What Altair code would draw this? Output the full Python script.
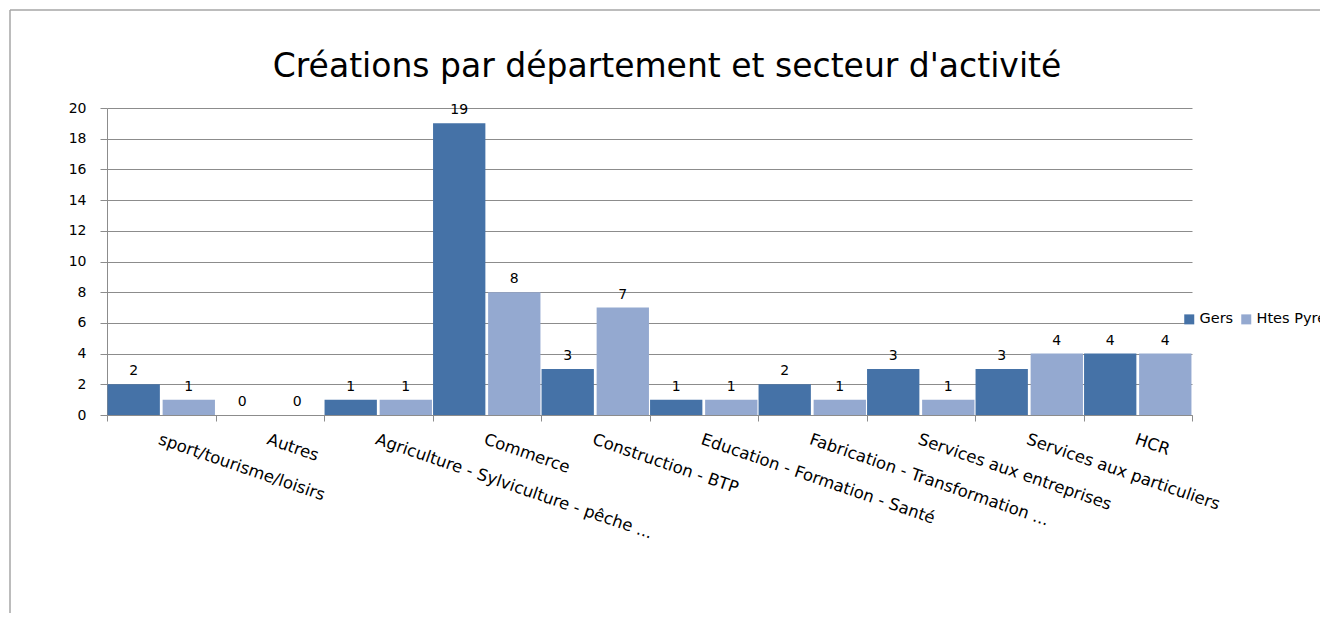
import altair as alt
import pandas as pd

categories = [
    "sport/tourisme/loisirs",
    "Autres",
    "Agriculture - Sylviculture - pêche ...",
    "Commerce",
    "Construction - BTP",
    "Education - Formation - Santé",
    "Fabrication - Transformation ...",
    "Services aux entreprises",
    "Services aux particuliers",
    "HCR",
]
series = ["Gers", "Htes Pyrénées"]
gers = [2, 0, 1, 19, 3, 1, 2, 3, 3, 4]
htes = [1, 0, 1, 8, 7, 1, 1, 1, 4, 4]
colors = ["#4572A7", "#94A9D0"]
title_text = "Créations par département et secteur d'activité"
y_ticks = [0, 2, 4, 6, 8, 10, 12, 14, 16, 18, 20]

rows = []
for c, g, h in zip(categories, gers, htes):
    rows.append({"cat": c, "serie": series[0], "val": g})
    rows.append({"cat": c, "serie": series[1], "val": h})
df = pd.DataFrame(rows)

FONT = "DejaVu Sans"
W, H = 1085, 307

x_enc = alt.X(
    "cat:N",
    sort=categories,
    scale=alt.Scale(paddingInner=0, paddingOuter=0),
    axis=alt.Axis(
        title=None,
        labelAngle=19,
        labelAlign="left",
        labelBaseline="top",
        tickBand="extent",
        labelPadding=10,
        tickSize=6,
        labelFontSize=16.5,
        labelFont=FONT,
        labelColor="#000000",
        domainColor="#8c8c8c",
        tickColor="#8c8c8c",
        grid=False,
        labelLimit=400,
        labelOverlap=False,
    ),
)
xoff = alt.XOffset("serie:N", sort=series, scale=alt.Scale(paddingInner=0.05, paddingOuter=0.01))
y_enc = alt.Y(
    "val:Q",
    scale=alt.Scale(domain=[0, 20], nice=False),
    axis=alt.Axis(
        title=None,
        values=y_ticks,
        labelOverlap=False,
        tickSize=7,
        labelPadding=14,
        labelFontSize=14,
        labelFont=FONT,
        labelColor="#000000",
        domainColor="#8c8c8c",
        tickColor="#8c8c8c",
        gridColor="#8c8c8c",
        gridWidth=1,
    ),
)

base = alt.Chart(df)
bars = base.mark_bar().encode(
    x=x_enc,
    xOffset=xoff,
    y=y_enc,
    color=alt.Color(
        "serie:N",
        sort=series,
        scale=alt.Scale(domain=series, range=colors),
        legend=alt.Legend(
            title=None,
            orient="none",
            legendX=1075,
            legendY=204,
            direction="horizontal",
            symbolType="square",
            symbolSize=100,
            symbolStrokeWidth=0,
            labelFont=FONT,
            labelFontSize=14.5,
            labelColor="#000000",
            columnPadding=5,
            labelOffset=3,
        ),
    ),
)
labels = base.mark_text(baseline="bottom", dy=-6, font=FONT, fontSize=14, color="#000000").encode(
    x=x_enc,
    xOffset=xoff,
    y=y_enc,
    text=alt.Text("val:Q"),
)

title = alt.Chart(pd.DataFrame({"t": [title_text]})).mark_text(
    font=FONT, fontSize=33, color="#000000", baseline="alphabetic", align="center"
).encode(x=alt.value(560), y=alt.value(-31), text="t:N")

border_v = alt.Chart(pd.DataFrame({"a": [0]})).mark_rule(color="#a6a6a6", strokeWidth=1.5).encode(
    x=alt.value(-97), y=alt.value(-98), y2=alt.value(520)
)
border_h = alt.Chart(pd.DataFrame({"a": [0]})).mark_rule(color="#a6a6a6", strokeWidth=1.5).encode(
    x=alt.value(-97), x2=alt.value(1250), y=alt.value(-98)
)

chart = (
    alt.layer(border_v, border_h, bars, labels, title)
    .properties(
        width=W,
        height=H,
        autosize=alt.AutoSizeParams(type="none"),
        padding={"left": 99, "top": 100, "right": 128, "bottom": 198},
    )
    .configure_view(stroke=None)
)

chart.save("out.html", embed_options={"renderer": "svg", "actions": False})
